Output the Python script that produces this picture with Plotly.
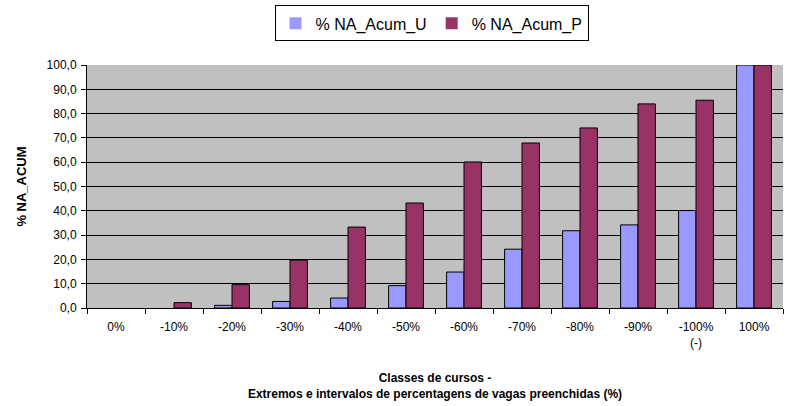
import plotly.graph_objects as go

categories = ["0%", "-10%", "-20%", "-30%", "-40%", "-50%", "-60%", "-70%", "-80%", "-90%", "-100%<br>(-)", "100%"]
na_acum_u = [0.0, 0.0, 1.1, 2.7, 4.1, 9.2, 14.8, 24.2, 31.8, 34.2, 40.1, 100.0]
na_acum_p = [0.0, 2.2, 9.6, 19.7, 33.3, 43.2, 60.1, 67.9, 74.1, 84.0, 85.5, 100.0]

font_family = "Liberation Sans, Arial, sans-serif"


def outline_widths(values):
    # Excel draws no outline for empty bars
    return [0 if v == 0 else 1 for v in values]


fig = go.Figure()
fig.add_trace(go.Bar(x=categories, y=na_acum_u, name="% NA_Acum_U",
                     marker=dict(color="#9999FF",
                                 line=dict(color="black", width=outline_widths(na_acum_u)))))
fig.add_trace(go.Bar(x=categories, y=na_acum_p, name="% NA_Acum_P",
                     marker=dict(color="#993366",
                                 line=dict(color="black", width=outline_widths(na_acum_p)))))

fig.update_layout(
    width=790, height=406,
    margin=dict(l=87, r=7, t=65, b=98, autoexpand=False),
    paper_bgcolor="white",
    plot_bgcolor="#C0C0C0",
    separators=",.",
    barmode="group",
    bargap=0.4,
    bargroupgap=0,
    font=dict(family=font_family, size=12, color="black"),
    showlegend=True,
    legend=dict(orientation="h", x=0.495, xanchor="center", y=1.245, yanchor="top",
                bordercolor="black", borderwidth=1, bgcolor="white",
                font=dict(size=16, family=font_family), itemwidth=30, traceorder="normal"),
    xaxis=dict(
        title=dict(text="<b>Classes de cursos -<br>Extremos e intervalos de percentagens de vagas preenchidas (%)</b>",
                   font=dict(size=12), standoff=24),
        automargin=False,
        showline=True, linecolor="black", linewidth=1,
        ticks="outside", tickson="boundaries", ticklen=5, tickcolor="black",
        ticklabelstandoff=8,
        showgrid=False, mirror=False, fixedrange=True,
    ),
    yaxis=dict(
        title=dict(text="<b>% NA_ACUM</b>", font=dict(size=13), standoff=17),
        automargin=False,
        range=[0, 100], dtick=10, tickformat=".1f",
        showline=True, linecolor="black", linewidth=1,
        ticks="outside", ticklen=5, tickcolor="black",
        ticklabelstandoff=2,
        showgrid=True, gridcolor="black", gridwidth=1,
        zeroline=False, fixedrange=True,
    ),
)

fig.write_html("out.html", config={"displayModeBar": False},
               post_script="document.body.style.margin='0';")
